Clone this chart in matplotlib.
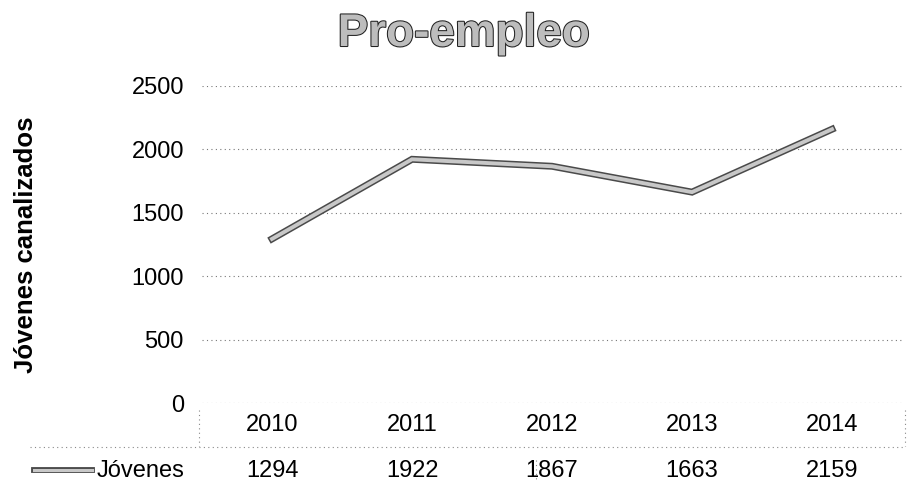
import matplotlib
matplotlib.use("Agg")
import matplotlib.pyplot as plt
import matplotlib.patheffects as pe

years = ["2010", "2011", "2012", "2013", "2014"]
values = [1294, 1922, 1867, 1663, 2159]
yticks = [0, 500, 1000, 1500, 2000, 2500]
series_name = "Jóvenes"
title = "Pro-empleo"
ylabel = "Jóvenes canalizados"

plt.rcParams['font.family'] = ['Liberation Sans', 'DejaVu Sans']

W, H = 910, 486
fig = plt.figure(figsize=(W / 100, H / 100), dpi=100)
fig.patch.set_facecolor("white")

def fx(px):
    return px / W

def fy(py):
    return 1 - py / H

ax = fig.add_axes([fx(202), fy(403), fx(902) - fx(202), fy(86) - fy(403)])
x = list(range(len(years)))
ax.plot(x, values, color="#c8c8c8", linewidth=2.8, solid_joinstyle="miter",
        path_effects=[pe.Stroke(linewidth=5.0, foreground="#4a4a4a"), pe.Normal()],
        zorder=3)
ax.set_xlim(-0.5, len(years) - 0.5)
ax.set_ylim(0, 2500)
ax.set_yticks(yticks)
ax.set_yticklabels([str(v) for v in yticks], fontsize=17)
ax.tick_params(axis="y", length=0, pad=13)
ax.set_xticks(x)
ax.set_xticklabels(years, fontsize=17)
ax.tick_params(axis="x", length=0, pad=8)
for s in ax.spines.values():
    s.set_visible(False)
ax.grid(axis="y", linestyle=(0, (1, 3)), color="#777777", linewidth=0.8)
ax.set_axisbelow(True)
ax.set_ylabel(ylabel, fontsize=18.5, fontweight="bold")
ax.yaxis.set_label_coords(-(202 - 38) / 700, 0.5)

# title
fig.text(fx(464), fy(34), title, ha="center", va="center", fontsize=33,
         fontweight="bold", color="#bdbdbd",
         path_effects=[pe.withStroke(linewidth=1.5, foreground="#222222")])

# data table
for i, v in enumerate(values):
    xd = ax.transData.transform((i, 0))[0]
    fig.text(xd / W, fy(471), str(v), ha="center", va="center", fontsize=17)
fig.add_artist(plt.Line2D([fx(30), fx(905)], [fy(447), fy(447)],
                          linestyle=(0, (1, 3)), color="#888888", linewidth=0.8))
fig.add_artist(plt.Line2D([fx(199), fx(199)], [fy(410), fy(446)],
                          linestyle=(0, (1, 3)), color="#888888", linewidth=0.8))
fig.add_artist(plt.Line2D([fx(536), fx(536)], [fy(460), fy(482)],
                          linestyle=(0, (1, 3)), color="#888888", linewidth=0.8))
fig.add_artist(plt.Line2D([fx(905), fx(905)], [fy(410), fy(446)],
                          linestyle=(0, (1, 3)), color="#888888", linewidth=0.8))
# legend key in table
key = plt.Line2D([fx(34), fx(92)], [fy(470), fy(470)], color="#c8c8c8", linewidth=2.2,
                 path_effects=[pe.Stroke(linewidth=4.2, foreground="#4a4a4a"), pe.Normal()])
fig.add_artist(key)
fig.text(fx(97), fy(471), series_name, ha="left", va="center", fontsize=17)

fig.savefig("out.png", dpi=100, facecolor="white")
